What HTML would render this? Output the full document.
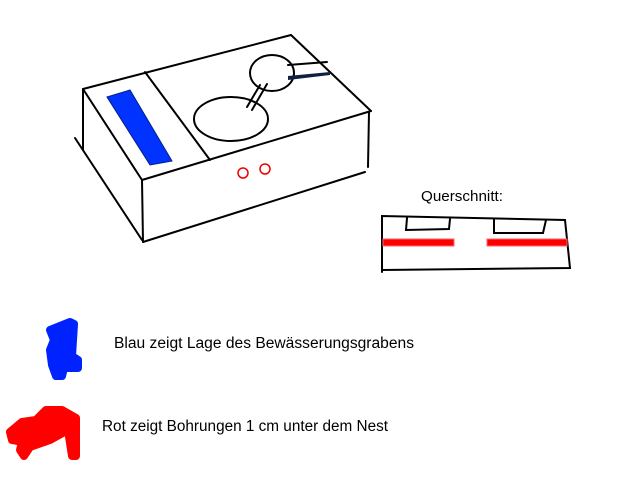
<!DOCTYPE html>
<html><head><meta charset="utf-8"><style>
html,body{margin:0;padding:0;background:#fff;width:640px;height:480px;overflow:hidden}
svg{display:block}
text{font-family:"Liberation Sans",Arial,sans-serif;fill:#000}
</style></head><body>
<svg width="640" height="480" viewBox="0 0 640 480" xmlns="http://www.w3.org/2000/svg">
<g stroke="#000" stroke-width="2" fill="none" stroke-linecap="round">
<line x1="83" y1="89" x2="291" y2="35"/>
<line x1="291" y1="35" x2="371" y2="111"/>
<line x1="83" y1="89" x2="142" y2="180"/>
<line x1="142" y1="180" x2="371" y2="111"/>
<line x1="145" y1="72" x2="210" y2="160"/>
<line x1="83" y1="89" x2="83" y2="150"/>
<line x1="75" y1="138" x2="142" y2="240"/>
<line x1="142" y1="180" x2="143" y2="242"/>
<line x1="143" y1="242" x2="365" y2="172"/>
<line x1="369" y1="112" x2="368" y2="167"/>
<ellipse cx="231" cy="119" rx="37" ry="22"/>
<ellipse cx="272" cy="73" rx="22" ry="18"/>
<line x1="247" y1="107" x2="260" y2="85"/>
<line x1="252" y1="110" x2="267" y2="84"/>
<line x1="288" y1="65" x2="327" y2="62"/>
<polyline points="382,272 382,216 565,220 570,268 382,270"/>
<polyline points="407,218 406,230 449,229 450,219"/>
<polyline points="494,219 494,233 543,233 546,220"/>
</g>
<polygon points="288,76 330,72 330,75 288,80" fill="#102040"/>
<polygon points="107,97 130,90 172,161 150,165" fill="#0033ff" stroke="#002288" stroke-width="1"/>
<circle cx="243" cy="173" r="5" fill="none" stroke="#e00" stroke-width="1.5"/>
<circle cx="265" cy="169" r="5" fill="none" stroke="#e00" stroke-width="1.5"/>
<rect x="383" y="239" width="71" height="7" fill="#ff0000" stroke="#ff6666" stroke-width="1"/>
<rect x="487" y="239" width="80" height="7" fill="#ff0000" stroke="#ff6666" stroke-width="1"/>
<text x="421" y="201" font-size="15" textLength="82" lengthAdjust="spacingAndGlyphs">Querschnitt:</text>
<g fill="#0022ff" stroke="#0022ff" stroke-linejoin="round" stroke-linecap="round">
<path d="M50,330 L70,322 L74,324 L72,356 L78,360 L78,368 L64,368 L62,376 L56,376 L52,365 L50,350 L54,340 Z" stroke-width="8"/>
</g>
<g fill="#ff0000" stroke="#ff0000" stroke-linejoin="round" stroke-linecap="round">
<path d="M10,432 L22,422 L36,420 L46,410 L62,410 L76,418 L76,456 L72,456 L68,430 L50,440 L30,447 L24,456 L20,450 L22,442 L12,440 Z" stroke-width="8"/>
</g>
<text x="114" y="348" font-size="15.5" textLength="300" lengthAdjust="spacingAndGlyphs">Blau zeigt Lage des Bewässerungsgrabens</text>
<text x="102" y="431" font-size="15.5" textLength="286" lengthAdjust="spacingAndGlyphs">Rot zeigt Bohrungen 1 cm unter dem Nest</text>
</svg>
</body></html>
